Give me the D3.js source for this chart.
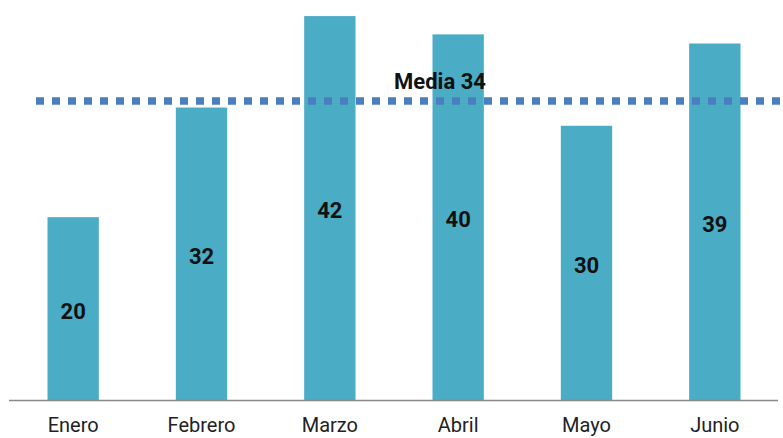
<!DOCTYPE html>
<meta charset="utf-8">
<style>
  body { margin: 0; background: #fff; }
  svg text { font-family: "Roboto", "DejaVu Sans", sans-serif; }
</style>
<svg id="chart" width="783" height="438"></svg>
<script src="https://d3js.org/d3.v7.min.js"></script>
<script>
var months = ["Enero", "Febrero", "Marzo", "Abril", "Mayo", "Junio"];
var values = [20, 32, 42, 40, 30, 39];
var mediaLabel = 34;
var mediaLevel = 32.7; // where the dotted line sits in the picture

var svg = d3.select("#chart"),
    baseY = 400,
    left = 9,
    right = 779;

var x = d3.scaleBand()
    .domain(months)
    .range([left, right])
    .paddingInner(0.6)
    .paddingOuter(0.3);

var y = d3.scaleLinear()
    .domain([0, 43.76])
    .range([baseY, 0]);

var data = months.map(function(m, i) { return {month: m, value: values[i]}; });

svg.selectAll(".bar")
    .data(data)
  .enter().append("rect")
    .attr("class", "bar")
    .attr("x", function(d) { return x(d.month); })
    .attr("width", x.bandwidth())
    .attr("y", function(d) { return y(d.value); })
    .attr("height", function(d) { return baseY - y(d.value); })
    .attr("fill", "#4bacc6");

// baseline
svg.append("line")
    .attr("x1", left)
    .attr("x2", right - 1)
    .attr("y1", baseY + 0.5)
    .attr("y2", baseY + 0.5)
    .attr("stroke", "#888")
    .attr("stroke-width", 1.5);

// month labels
svg.selectAll(".month")
    .data(data)
  .enter().append("text")
    .attr("class", "month")
    .attr("x", function(d) { return x(d.month) + x.bandwidth() / 2; })
    .attr("y", 432)
    .attr("text-anchor", "middle")
    .attr("font-size", 20)
    .attr("fill", "#222")
    .text(function(d) { return d.month; });

// value labels inside bars
svg.selectAll(".val")
    .data(data)
  .enter().append("text")
    .attr("class", "val")
    .attr("x", function(d) { return x(d.month) + x.bandwidth() / 2; })
    .attr("y", function(d) { return (y(d.value) + baseY) / 2 + 10; })
    .attr("text-anchor", "middle")
    .attr("font-size", 22)
    .attr("font-weight", "bold")
    .attr("fill", "#111")
    .text(function(d) { return d.value; });

// media line
svg.append("line")
    .attr("x1", 36)
    .attr("x2", 783)
    .attr("y1", y(mediaLevel))
    .attr("y2", y(mediaLevel))
    .attr("stroke", "#4a7ebf")
    .attr("stroke-width", 7.5)
    .attr("stroke-dasharray", "8,8");

svg.append("text")
    .attr("x", 440)
    .attr("y", 89)
    .attr("text-anchor", "middle")
    .attr("font-size", 22)
    .attr("font-weight", "bold")
    .attr("fill", "#111")
    .text("Media " + mediaLabel);
</script>
